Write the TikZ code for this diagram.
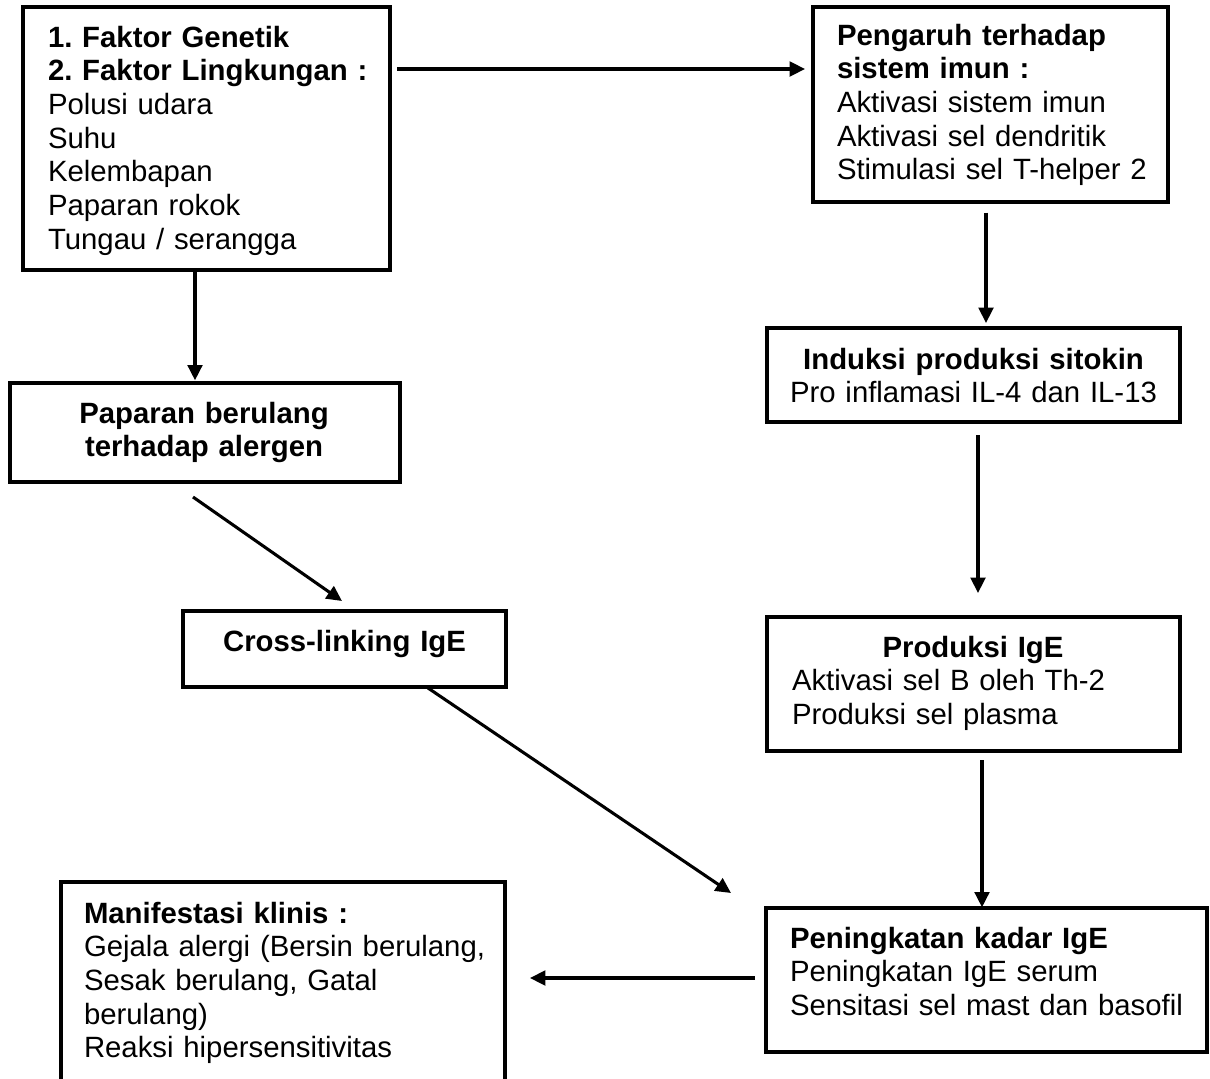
\documentclass[tikz,border=0pt]{standalone}
\usepackage{fontspec}
\setmainfont{Liberation Sans}
\usetikzlibrary{arrows.meta,calc}
\frenchspacing
\begin{document}
\begin{tikzpicture}[x=0.75pt,y=-0.75pt,
  box/.style={draw, line width=3pt, inner sep=0pt, outer sep=0pt},
  txt/.style={inner sep=0pt, outer sep=0pt, align=left, font=\frenchspacing\fontsize{22}{25.3}\selectfont},
  ctxt/.style={inner sep=0pt, outer sep=0pt, align=center, font=\frenchspacing\fontsize{22}{25.3}\selectfont},
  arr/.style={-{Triangle[length=11.5pt,width=11pt]}, line width=2.3pt}]
\clip (0,0) rectangle (1210,1078);
% boxes
\node[box, minimum width=275.25pt, minimum height=197.25pt] (b1) at (206.5,138.5) {};
\node[box, minimum width=266.25pt, minimum height=146.25pt] (b2) at (990.5,104.5) {};
\node[box, minimum width=292.5pt, minimum height=74.25pt] (b3) at (205,432.5) {};
\node[box, minimum width=309.75pt, minimum height=70.5pt] (b4) at (973.5,375) {};
\node[box, minimum width=242.25pt, minimum height=57pt] (b5) at (344.5,649) {};
\node[box, minimum width=309.75pt, minimum height=100.5pt] (b6) at (973.5,684) {};
\node[box, minimum width=330.75pt, minimum height=108pt] (b7) at (986.5,980) {};
\node[box, minimum width=333pt, minimum height=163.5pt] (b8) at (283,991) {};
% texts
\node[txt, text width=260pt, anchor=base west] (t1) at (48,47)
  {\textbf{1. Faktor Genetik}\\\textbf{2. Faktor Lingkungan :}\\Polusi udara\\Suhu\\Kelembapan\\Paparan rokok\\Tungau / serangga};
\node[txt, text width=255pt, anchor=base west] (t2) at (837,45)
  {\textbf{Pengaruh terhadap}\\\textbf{sistem imun :}\\Aktivasi sistem imun\\Aktivasi sel dendritik\\Stimulasi sel T-helper 2};
\node[ctxt, text width=280pt, anchor=base] (t3) at (204,423)
  {\textbf{Paparan berulang}\\\textbf{terhadap alergen}};
\node[ctxt, text width=300pt, anchor=base] (t4) at (973.5,369)
  {\textbf{Induksi produksi sitokin}\\Pro inflamasi IL-4 dan IL-13};
\node[ctxt, text width=230pt, anchor=base] (t5) at (344.5,651)
  {\textbf{Cross-linking IgE}};
\node[txt, text width=271.5pt, anchor=base west] (t6) at (792,657)
  {{\centering\bfseries Produksi IgE\par}Aktivasi sel B oleh Th-2\\Produksi sel plasma};
\node[txt, text width=315pt, anchor=base west] (t7) at (790,948)
  {\textbf{Peningkatan kadar IgE}\\Peningkatan IgE serum\\Sensitasi sel mast dan basofil};
\node[txt, text width=320pt, anchor=base west] (t8) at (84,923)
  {\textbf{Manifestasi klinis :}\\Gejala alergi (Bersin berulang,\\Sesak berulang, Gatal\\berulang)\\Reaksi hipersensitivitas};
% connectors
\draw[arr, shorten <=5.25pt, shorten >=6pt] (b1.east |- 0,69) -- (b2.west |- 0,69);
\draw[arr, shorten >=2pt] (b1.south -| 195,0) -- (b3.north -| 195,0);
\draw[arr] ($(b3.south west)+(183,15)$) -- ($(b5.north west)+(159,-10)$);
\draw[arr, shorten <=8pt, shorten >=3.75pt] (b2.south -| 986,0) -- (b4.north -| 986,0);
\draw[arr, shorten <=9.75pt, shorten >=18pt] (b4.south -| 978,0) -- (b6.north -| 978,0);
\draw[arr, shorten <=6.75pt, shorten >=0.5pt] (b6.south -| 982,0) -- (b7.north -| 982,0);
\draw[arr] ($(b5.south west)+(245,1)$) -- ($(b7.north west)+(-35,-15)$);
\draw[arr, shorten <=8.25pt, shorten >=18.75pt] (b7.west |- 0,978) -- (b8.east |- 0,978);
\end{tikzpicture}
\end{document}
